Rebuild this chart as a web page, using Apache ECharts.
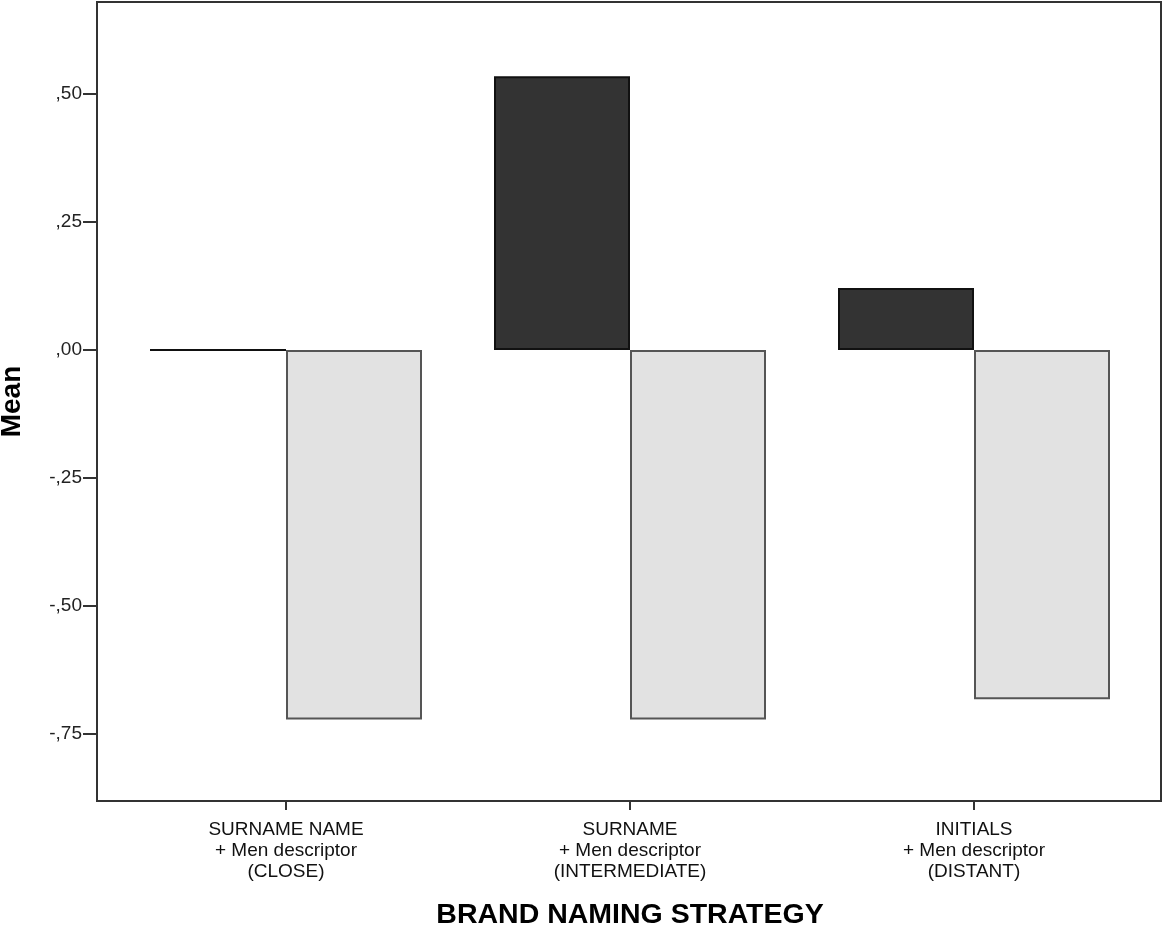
<!DOCTYPE html>
<html>
<head>
<meta charset="utf-8">
<script src="https://cdn.jsdelivr.net/npm/echarts@6/dist/echarts.min.js"></script>
<style>
  html, body { margin: 0; padding: 0; background: #fff; }
  #chart { width: 1165px; height: 931px; }
</style>
</head>
<body>
<div id="chart"></div>
<script>
// categories and means
var categories = [
    'SURNAME NAME\n+ Men descriptor\n(CLOSE)',
    'SURNAME\n+ Men descriptor\n(INTERMEDIATE)',
    'INITIALS\n+ Men descriptor\n(DISTANT)'
]
var darkMeans = [0, 0.535, 0.121]
var lightMeans = [-0.722, -0.722, -0.682]
var yTicks = [-0.75, -0.5, -0.25, 0, 0.25, 0.5]

var myChart = echarts.init(document.getElementById('chart'));
var font = '"Liberation Sans", Arial, sans-serif'

var option = {
    backgroundColor: '#fff',
    animation: false,
    // outer plot frame
    graphic: [{
        type: 'rect',
        z: 100,
        shape: { x: 97, y: 2, width: 1064, height: 799 },
        style: { fill: 'none', stroke: '#333', lineWidth: 2 }
    }],
    grid: {
        left: 114,
        right: 19,
        top: 2,
        bottom: 130,
        outerBoundsMode: 'none',
        containLabel: false
    },
    xAxis: {
        type: 'category',
        data: categories,
        name: 'BRAND NAMING STRATEGY',
        nameLocation: 'middle',
        nameGap: 100,
        nameTextStyle: {
            fontFamily: font,
            fontSize: 28.5,
            fontWeight: 'bold',
            color: '#000'
        },
        axisLine: { show: false, onZero: false },
        axisTick: {
            show: true,
            alignWithLabel: true,
            length: 9,
            lineStyle: { color: '#333', width: 2 }
        },
        axisLabel: {
            fontFamily: font,
            fontSize: 19,
            lineHeight: 21,
            color: '#111',
            margin: 18
        },
        splitLine: { show: false }
    },
    yAxis: {
        type: 'value',
        min: -0.881,
        max: 0.68,
        offset: 17,
        name: 'Mean',
        nameLocation: 'middle',
        nameGap: 71,
        nameTextStyle: {
            fontFamily: font,
            fontSize: 28,
            fontWeight: 'bold',
            color: '#000'
        },
        axisLine: { show: false },
        axisTick: {
            show: true,
            length: 14,
            customValues: yTicks,
            lineStyle: { color: '#333', width: 2 }
        },
        axisLabel: {
            fontFamily: font,
            fontSize: 19,
            color: '#222',
            margin: 15,
            customValues: yTicks,
            formatter: function (v) {
                return v.toFixed(2).replace('0.', ',')
            }
        },
        splitLine: { show: false }
    },
    series: [{
        name: 'dark',
        type: 'bar',
        data: darkMeans,
        barWidth: 136,
        barGap: '0%',
        itemStyle: {
            color: '#333333',
            borderColor: '#111',
            borderWidth: 2
        }
    }, {
        name: 'light',
        type: 'bar',
        data: lightMeans,
        barWidth: 136,
        barGap: '0%',
        itemStyle: {
            color: '#e2e2e2',
            borderColor: '#555',
            borderWidth: 2
        }
    }]
};

myChart.setOption(option)
</script>
</body>
</html>
